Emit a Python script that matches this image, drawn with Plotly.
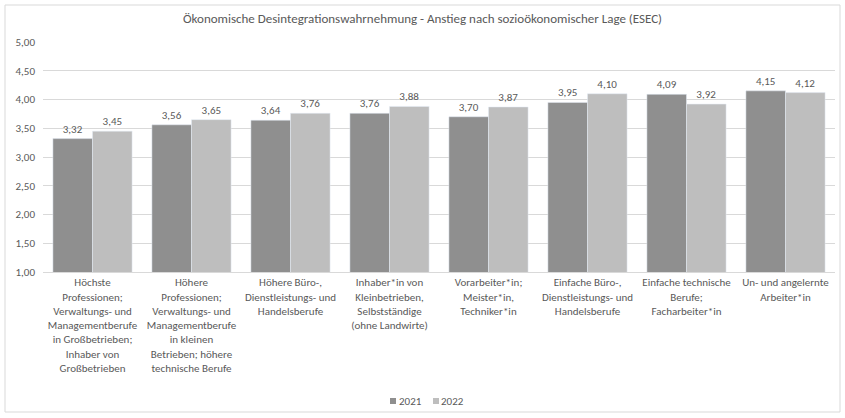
import plotly.graph_objects as go

categories = [
    "Höchste<br>Professionen;<br>Verwaltungs- und<br>Managementberufe<br>in Großbetrieben;<br>Inhaber von<br>Großbetrieben",
    "Höhere<br>Professionen;<br>Verwaltungs- und<br>Managementberufe<br>in kleinen<br>Betrieben; höhere<br>technische Berufe",
    "Höhere Büro-,<br>Dienstleistungs- und<br>Handelsberufe",
    "Inhaber*in von<br>Kleinbetrieben,<br>Selbstständige<br>(ohne Landwirte)",
    "Vorarbeiter*in;<br>Meister*in,<br>Techniker*in",
    "Einfache Büro-,<br>Dienstleistungs- und<br>Handelsberufe",
    "Einfache technische<br>Berufe;<br>Facharbeiter*in",
    "Un- und angelernte<br>Arbeiter*in",
]
series_names = ["2021", "2022"]
values_2021 = [3.32, 3.56, 3.64, 3.76, 3.70, 3.95, 4.09, 4.15]
values_2022 = [3.45, 3.65, 3.76, 3.88, 3.87, 4.10, 3.92, 4.12]
y_ticks = [1.0, 1.5, 2.0, 2.5, 3.0, 3.5, 4.0, 4.5, 5.0]

font_family = "Carlito, Calibri, Lato, sans-serif"
txt_color = "#595959"
colors = ["#8f8f8f", "#bebebe"]

fig = go.Figure()
for name, vals, col in zip(series_names, [values_2021, values_2022], colors):
    fig.add_trace(go.Bar(
        x=categories, y=vals, name=name, marker_color=col,
        texttemplate="%{y:.2f}", textposition="outside",
        textfont=dict(size=11, color=txt_color, family=font_family), cliponaxis=False,
    ))

W, H = 845, 418
ml, mr, mt, mb = 43, 10, 42, 146
pw, ph = W - ml - mr, H - mt - mb

fig.update_layout(
    width=W, height=H,
    margin=dict(l=ml, r=mr, t=mt, b=mb),
    paper_bgcolor="white", plot_bgcolor="white",
    separators=",.",
    barmode="group", bargap=0.2, bargroupgap=0,
    font=dict(family=font_family, size=11, color=txt_color),
    title=dict(text="Ökonomische Desintegrationswahrnehmung - Anstieg nach sozioökonomischer Lage (ESEC)",
               x=0.5, xanchor="center", y=1 - 18 / H, yanchor="middle",
               font=dict(size=13, color=txt_color, family=font_family)),
    showlegend=False,
    xaxis=dict(showgrid=False, showline=True, linecolor="#d9d9d9", ticks="",
               automargin=False, tickfont=dict(size=11, color=txt_color)),
    yaxis=dict(range=[1, 5], tickvals=y_ticks, tickformat=".2f",
               showgrid=True, gridcolor="#d9d9d9", zeroline=False, automargin=False,
               ticklabelstandoff=7,
               tickfont=dict(size=11, color=txt_color)),
)

def px_x(p):
    return (p - ml) / pw

def px_y(p):
    return (H - mb - p) / ph

# compact Excel-style legend
leg_items = [(390, 397, series_names[0], colors[0]), (433, 439, series_names[1], colors[1])]
for sq, tx, name, col in leg_items:
    fig.add_shape(type="rect", xref="paper", yref="paper",
                  x0=px_x(sq), x1=px_x(sq + 6), y0=px_y(404), y1=px_y(398),
                  line=dict(width=0), fillcolor=col)
    fig.add_annotation(xref="paper", yref="paper", x=px_x(tx), y=px_y(401),
                       text=name, showarrow=False, xanchor="left", yanchor="middle",
                       font=dict(size=11, color=txt_color, family=font_family))

fig.add_shape(type="rect", xref="paper", yref="paper",
              x0=px_x(5), x1=px_x(840), y0=px_y(412), y1=px_y(5),
              line=dict(color="#d9d9d9", width=1), fillcolor="rgba(0,0,0,0)", layer="below")

fig.write_html("out.html", config={"displayModeBar": False},
               post_script="document.body.style.margin='0';")
